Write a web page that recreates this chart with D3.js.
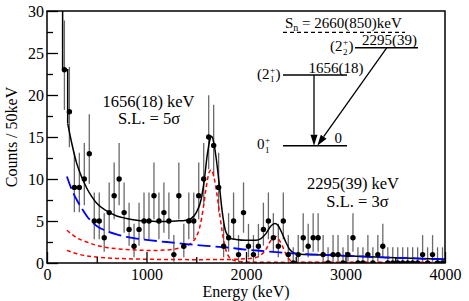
<!DOCTYPE html>
<html>
<head>
<meta charset="utf-8">
<script src="https://cdn.jsdelivr.net/npm/d3@7"></script>
<style>
  body { margin: 0; background: #fff; }
  svg { display: block; }
</style>
</head>
<body>
<div id="chart"></div>
<script>
const FONT = '"Liberation Serif", "DejaVu Serif", "Times New Roman", serif';

// spectrum: 50 keV bins starting at 150 keV
const binStart = 150, binWidth = 50;
const counts = [
  23, 18, 9, 9, 10, 13, 5, 5, 3, 6,
  8, 10, 6, 4, 2, 4, 5, 5, 8, 5,
  6, 5, 1, 8, 2, 5, 5, 8, 10, 15,
  14, 9, 2, 3, 5, 1, 6, 2, 1, 2,
  4, 5, 3, 2, 5, 1, 0, 1, 3, 2,
  3, 3, 1, 0, 1, 1, 0, 1, 3, 0,
  0, 1, 0, 1, 2, 0, 0, 0, 0, 0,
  0, 0, 1, 0, 1, 0, 0
];

// total fit (black), leading step then smooth part [keV, counts]
const fitStep = [[157, 31], [157, 23], [208, 23], [208, 16.6]];
const fitTotal = [
  [208, 16.6], [250, 14.2], [300, 11.8], [350, 10.2], [400, 8.9], [450, 7.9],
  [500, 7.1], [600, 6.2], [700, 5.6], [800, 5.3], [900, 5.1], [1000, 5.0],
  [1100, 4.95], [1200, 4.95], [1300, 5.0], [1400, 5.1], [1450, 5.3], [1500, 6.0],
  [1550, 7.6], [1580, 9.8], [1610, 12.8], [1640, 14.8], [1655, 15.1], [1675, 14.4],
  [1700, 12.5], [1730, 9.5], [1760, 6.2], [1790, 4.0], [1820, 3.2], [1850, 2.9],
  [1900, 2.8], [2000, 2.7], [2100, 2.7], [2150, 2.9], [2200, 3.5], [2250, 4.4],
  [2290, 4.7], [2320, 4.5], [2360, 3.6], [2400, 2.5], [2440, 1.6], [2480, 1.2],
  [2550, 1.05], [2800, 0.95], [3000, 0.85], [3500, 0.62], [4000, 0.44]
];

// background (blue, long dashes)
const background = [
  [200, 10.3], [250, 8.7], [300, 7.5], [350, 6.5], [400, 5.6], [500, 4.4],
  [600, 3.8], [700, 3.4], [800, 3.1], [900, 2.9], [1000, 2.75], [1200, 2.5],
  [1400, 2.25], [1600, 2.05], [1800, 1.85], [2000, 1.6], [2200, 1.4], [2400, 1.2],
  [2600, 1.05], [2800, 0.95], [3000, 0.85], [3200, 0.75], [3400, 0.65],
  [3600, 0.58], [3800, 0.5], [4000, 0.44]
];

// components (red, short dashes)
const peak1656 = [
  [200, 3.9], [300, 3.0], [400, 2.5], [500, 2.1], [600, 1.85], [700, 1.7],
  [800, 1.6], [900, 1.55], [1000, 1.5], [1100, 1.5], [1200, 1.55], [1300, 1.7],
  [1400, 2.0], [1450, 2.4], [1500, 3.1], [1540, 4.5], [1570, 6.5], [1600, 9.0],
  [1630, 10.8], [1650, 11.1], [1670, 10.6], [1700, 8.8], [1730, 6.3], [1760, 3.8],
  [1790, 1.9], [1820, 0.9], [1860, 0.4], [1920, 0.2], [2000, 0.12], [2500, 0.07],
  [4000, 0.05]
];
const peak2295 = [
  [200, 1.5], [300, 1.1], [400, 0.85], [500, 0.7], [700, 0.55], [1000, 0.45],
  [1500, 0.4], [1800, 0.42], [2000, 0.5], [2100, 0.65], [2150, 0.95], [2200, 1.6],
  [2240, 2.5], [2280, 3.1], [2300, 3.15], [2330, 2.8], [2370, 1.9], [2400, 1.1],
  [2430, 0.5], [2460, 0.2], [2500, 0.1], [3000, 0.08], [4000, 0.07]
];

const xTicks = [0, 1000, 2000, 3000, 4000];
const yTicks = [0, 5, 10, 15, 20, 25, 30];

// level scheme
const levelEnergies = [0, 1656, 2295];
const levelLabels = ["0", "1656(18)", "2295(39)"];
const levelSpins = [
  { main: "0", sub: "1", paren: false },
  { main: "2", sub: "1", paren: true },
  { main: "2", sub: "2", paren: true }
];
const transitions = [[1656, 0], [2295, 0]];
const snEnergy = 2660;
const snText = " = 2660(850)keV";

const width = 469, height = 301;
const margin = { top: 11, right: 24, bottom: 38, left: 47 };

const svg = d3.select("#chart").append("svg")
    .attr("width", width)
    .attr("height", height)
    .style("font-family", FONT);

const x = d3.scaleLinear().domain([0, 4000]).range([margin.left, width - margin.right]);
const y = d3.scaleLinear().domain([0, 30]).range([height - margin.bottom, margin.top]);

svg.append("clipPath").attr("id", "plotclip")
  .append("rect")
    .attr("x", margin.left).attr("y", margin.top)
    .attr("width", x(4000) - x(0)).attr("height", y(0) - y(30));

const plot = svg.append("g").attr("clip-path", "url(#plotclip)");

const data = counts.map((n, i) => ({
    e: binStart + binWidth / 2 + i * binWidth,
    n: n,
    hi: Math.sqrt(n + 0.75) + 1,
    lo: n > 0 ? Math.sqrt(n - 0.25) : 0
}));

// error bars
plot.selectAll("line.err")
    .data(data)
    .join("line")
    .attr("class", "err")
    .attr("x1", d => x(d.e)).attr("x2", d => x(d.e))
    .attr("y1", d => y(d.n - d.lo)).attr("y2", d => y(d.n + d.hi))
    .attr("stroke", "#6a6a6a")
    .attr("stroke-width", 1.3);

const line = d3.line()
    .x(d => x(d[0]))
    .y(d => y(d[1]))
    .curve(d3.curveMonotoneX);

plot.append("path").datum(peak2295)
    .attr("d", line).attr("fill", "none")
    .attr("stroke", "#ff0000").attr("stroke-width", 1.5)
    .attr("stroke-dasharray", "4,3");

plot.append("path").datum(peak1656)
    .attr("d", line).attr("fill", "none")
    .attr("stroke", "#ff0000").attr("stroke-width", 1.5)
    .attr("stroke-dasharray", "4,3");

plot.append("path").datum(fitStep)
    .attr("d", d3.line().x(d => x(d[0])).y(d => y(d[1])))
    .attr("fill", "none").attr("stroke", "#000").attr("stroke-width", 1.5);

plot.append("path").datum(fitTotal)
    .attr("d", line).attr("fill", "none")
    .attr("stroke", "#000").attr("stroke-width", 1.5);

plot.append("path").datum(background)
    .attr("d", line).attr("fill", "none")
    .attr("stroke", "#0000ff").attr("stroke-width", 1.8)
    .attr("stroke-dasharray", "13,5");

// points
plot.selectAll("circle.pt")
    .data(data)
    .join("circle")
    .attr("class", "pt")
    .attr("cx", d => x(d.e))
    .attr("cy", d => y(d.n))
    .attr("r", 2.7)
    .attr("fill", "#000");

// axes
svg.append("g")
    .attr("transform", `translate(${margin.left},0)`)
    .call(d3.axisLeft(y).tickValues(yTicks).tickFormat(d3.format("d"))
        .tickSizeInner(-11).tickSizeOuter(0).tickPadding(3));
svg.append("g")
    .attr("transform", `translate(${margin.left},0)`)
    .call(d3.axisLeft(y).tickValues(d3.range(2.5, 30, 5)).tickSize(-6).tickFormat(""));

svg.append("g")
    .attr("transform", `translate(0,${y(0)})`)
    .call(d3.axisBottom(x).tickValues(xTicks).tickFormat(d3.format("d"))
        .tickSizeInner(-11).tickSizeOuter(0).tickPadding(6));
svg.append("g")
    .attr("transform", `translate(0,${y(0)})`)
    .call(d3.axisBottom(x).tickValues(d3.range(500, 4000, 1000)).tickSize(-6).tickFormat(""));

svg.selectAll(".tick line").attr("stroke", "#000").attr("stroke-width", 1.3);
svg.selectAll(".domain").remove();
svg.selectAll(".tick text")
    .attr("fill", "#000")
    .style("font-size", "16px");

svg.append("rect")
    .attr("x", x(0)).attr("y", y(30))
    .attr("width", x(4000) - x(0)).attr("height", y(0) - y(30))
    .attr("fill", "none").attr("stroke", "#000").attr("stroke-width", 1.5);

svg.append("text")
    .attr("x", (x(0) + x(4000)) / 2).attr("y", 297)
    .attr("text-anchor", "middle")
    .style("font-size", "16px")
    .text("Energy (keV)");

svg.append("text")
    .attr("transform", `translate(17,${(y(0) + y(30)) / 2}) rotate(-90)`)
    .attr("text-anchor", "middle")
    .style("font-size", "16px")
    .text("Counts / 50keV");

// peak annotations
const ann = [
  { t: "1656(18) keV", e: 1020, v: 18.6 },
  { t: "S.L. = 5\u03c3", e: 1025, v: 16.5 },
  { t: "2295(39) keV", e: 3075, v: 8.8 },
  { t: "S.L. = 3\u03c3", e: 3120, v: 6.7 }
];
svg.selectAll("text.ann")
    .data(ann)
    .join("text")
    .attr("class", "ann")
    .attr("x", d => x(d.e)).attr("y", d => y(d.v))
    .attr("text-anchor", "middle")
    .style("font-size", "16.5px")
    .text(d => d.t);

// level scheme inset
const lev = d3.scaleLinear().domain([0, snEnergy]).range([145.7, 32.3]);
const levelX = [[283, 347], [283, 347], [355, 418]];
const labelEndX = [342, 363.5, 417];
const spinX = [257, 257, 330];
const transX = [[314, 314], [386.7, 317.3]];
const inset = svg.append("g");

inset.append("line")
    .attr("x1", 283).attr("x2", 405)
    .attr("y1", lev(snEnergy)).attr("y2", lev(snEnergy))
    .attr("stroke", "#000").attr("stroke-width", 1.2)
    .attr("stroke-dasharray", "4,3");

const sn = inset.append("text")
    .attr("x", 285).attr("y", lev(snEnergy) - 4.5)
    .style("font-size", "15px");
sn.append("tspan").text("S");
sn.append("tspan").attr("dy", 3).style("font-size", "10px").text("n");
sn.append("tspan").attr("dy", -3).text(snText);

levelEnergies.forEach((e, i) => {
    const ly = lev(e);
    inset.append("line")
        .attr("x1", levelX[i][0]).attr("x2", levelX[i][1])
        .attr("y1", ly).attr("y2", ly)
        .attr("stroke", "#000").attr("stroke-width", 1.5);
    inset.append("text")
        .attr("x", labelEndX[i]).attr("y", ly - 2.5)
        .attr("text-anchor", "end")
        .style("font-size", "15px")
        .text(levelLabels[i]);

    const s = levelSpins[i];
    const by = ly + 3.5;
    const t = inset.append("text")
        .attr("x", spinX[i]).attr("y", by)
        .style("font-size", "15px")
        .text((s.paren ? "(" : "") + s.main);
    const w = t.node().getComputedTextLength();
    inset.append("text")
        .attr("x", spinX[i] + w + 0.5).attr("y", by - 6)
        .style("font-size", "9px").text("+");
    inset.append("text")
        .attr("x", spinX[i] + w + 0.5).attr("y", by + 3.5)
        .style("font-size", "9px").text(s.sub);
    if (s.paren) {
        inset.append("text")
            .attr("x", spinX[i] + w + 6).attr("y", by)
            .style("font-size", "15px").text(")");
    }
});

transitions.forEach((tr, i) => {
    const x1 = transX[i][0], y1 = lev(tr[0]);
    const x2 = transX[i][1], y2 = lev(tr[1]);
    const len = Math.hypot(x2 - x1, y2 - y1);
    const ux = (x2 - x1) / len, uy = (y2 - y1) / len;
    const headL = 11, headW = 3.5;
    const bx = x2 - ux * headL, by = y2 - uy * headL;
    inset.append("line")
        .attr("x1", x1).attr("y1", y1).attr("x2", bx).attr("y2", by)
        .attr("stroke", "#000").attr("stroke-width", 1.3);
    inset.append("path")
        .attr("d", `M${x2},${y2}L${bx - uy * headW},${by + ux * headW}L${bx + uy * headW},${by - ux * headW}Z`)
        .attr("fill", "#000");
});

svg.selectAll("text").style("font-family", FONT);
</script>
</body>
</html>
